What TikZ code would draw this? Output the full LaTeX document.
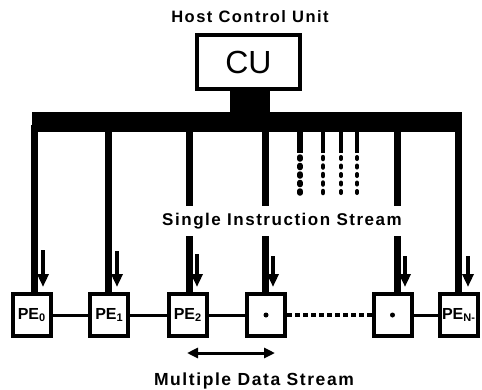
\documentclass[tikz,border=0pt]{standalone}
\usepackage{fontspec}
\setmainfont{Liberation Sans}
\newfontfamily\lblfont[LetterSpace=9]{Liberation Sans}
\usetikzlibrary{arrows.meta,calc}
\newcommand\pesub[1]{\raisebox{-2.5pt}{\fontsize{11}{11}\selectfont #1}}
\begin{document}
\begin{tikzpicture}[x=1pt,y=-1pt,
  pebox/.style={draw,line width=4pt,minimum width=38pt,minimum height=42pt,inner sep=0pt,
    font=\bfseries\fontsize{16}{16}\selectfont},
  vline/.style={line width=7pt},
  dsolid/.style={line width=4pt},
  dline/.style={line width=4pt,line cap=round,dash pattern=on 2pt off 6.5pt},
  sarrow/.style={line width=4pt,-{Triangle[length=13pt,width=11pt]},shorten >=5pt},
  link/.style={line width=3pt},
  dotlink/.style={line width=3.5pt,dash pattern=on 5pt off 3pt},
  dbl/.style={line width=3pt,{Triangle[length=11pt,width=10pt]}-{Triangle[length=11pt,width=10pt]}},
  lbl/.style={font=\lblfont\bfseries\fontsize{#1}{#1}\selectfont}]
\useasboundingbox (0,0) rectangle (482,389);
% title and control unit
\node[lbl=16.5] (host) at (250,17) {Host Control Unit};
\node[draw,line width=4pt,minimum width=103pt,minimum height=54pt,inner sep=0pt,
  font=\fontsize{32}{32}\selectfont] (cu) at (248.5,62) {CU};
\node[fill,inner sep=0pt,minimum width=430pt,minimum height=20pt] (bus) at (247,121.5) {};
\node[fill,inner sep=0pt,minimum width=40pt,minimum height=26pt] (stem) at (250,101) {};
% processing elements
\node[pebox] (pe0) at (31.5,315) {PE\pesub{0}};
\node[pebox] (pe1) at (109,315) {PE\pesub{1}};
\node[pebox] (pe2) at (187.5,315) {PE\pesub{2}};
\node[pebox] (b4) at (266,315) {};
\node[pebox] (b5) at (392.5,315) {};
\node[pebox] (pen) at (458.5,315) {PE\pesub{N-}};
\fill (b4) circle[radius=2.5pt];
\fill (b5) circle[radius=2.5pt];
% bus taps
\coordinate (t0) at (34,125);
\coordinate (t1) at (108,125);
\coordinate (t2) at (189,125);
\coordinate (t4) at (265,125);
\coordinate (t5) at (397,125);
\coordinate (tn) at (458,125);
\draw[vline] (t0) -- (t0 |- pe0.north);
\draw[vline] (t1) -- (t1 |- pe1.north);
\draw[vline] (t2) -- (t2 |- pe2.north);
\draw[vline] (t4) -- (t4 |- b4.north);
\draw[vline] (t5) -- (t5 |- b5.north);
\draw[vline] (tn) -- (tn |- pen.north);
% dotted taps
\foreach \x/\w in {300/5.5,323/4.5,341/4,357/4}{
  \coordinate (ds) at (\x,125);
  \coordinate (dm) at (\x,153);
  \coordinate (de) at (\x,193);
  \draw[dsolid,line width=\w pt] (ds) -- (dm);
  \draw[dline,line width=\w pt] ([yshift=-4pt]dm) -- (de);
}
% small arrows
\coordinate (a0) at (43,250);
\coordinate (a1) at (117,251);
\coordinate (a2) at (197,254);
\coordinate (a4) at (273,256);
\coordinate (a5) at (405,256);
\coordinate (an) at (468,256);
\draw[sarrow] (a0) -- (a0 |- pe0.north);
\draw[sarrow] (a1) -- (a1 |- pe1.north);
\draw[sarrow] (a2) -- (a2 |- pe2.north);
\draw[sarrow] (a4) -- (a4 |- b4.north);
\draw[sarrow] (a5) -- (a5 |- b5.north);
\draw[sarrow] (an) -- (an |- pen.north);
% links between PEs
\draw[link] (pe0.east) -- (pe1.west);
\draw[link] (pe1.east) -- (pe2.west);
\draw[link] (pe2.east) -- (b4.west);
\draw[dotlink] (b4.east) -- (b5.west);
\draw[link] (b5.east) -- (pen.west);
% labels
\node[lbl=17,fill=white,inner xsep=2pt,inner ysep=7pt] (sis) at (282,221) {Single Instruction Stream};
\coordinate (m1) at (187,353);
\coordinate (m2) at (275,353);
\draw[dbl] (m1) -- (m2);
\node[lbl=17.5] (mds) at (254,381) {Multiple Data Stream};
\end{tikzpicture}
\end{document}
